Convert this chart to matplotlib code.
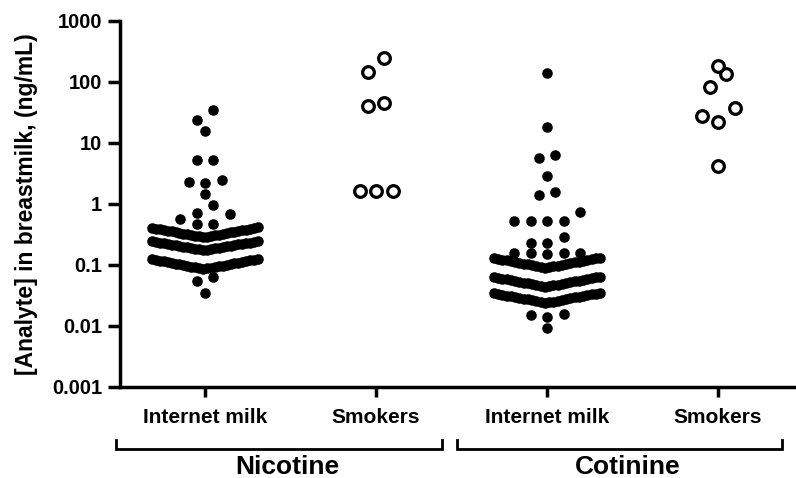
import numpy as np
import matplotlib.pyplot as plt
from matplotlib.transforms import blended_transform_factory

plt.rcParams['font.family'] = ['Liberation Sans', 'DejaVu Sans']
plt.rcParams['font.weight'] = 'bold'

categories = ['Internet milk', 'Smokers', 'Internet milk', 'Smokers']
analytes = ['Nicotine', 'Cotinine']

# values in ng/mL
nicotine_internet = [
    0.035, 0.055, 0.064,
    0.086, 0.0872, 0.0884, 0.0896, 0.0909, 0.0921, 0.0934, 0.0947, 0.0960, 0.0974,
    0.0987, 0.1001, 0.1015, 0.1029, 0.1044, 0.1058, 0.1073, 0.1088, 0.1103, 0.1119,
    0.1134, 0.1150, 0.1166, 0.1183, 0.1199, 0.1216, 0.1233, 0.1250,
    0.175, 0.177, 0.179, 0.182, 0.184, 0.186, 0.188, 0.191, 0.193, 0.196,
    0.198, 0.200, 0.203, 0.205, 0.208, 0.210, 0.213, 0.216, 0.218, 0.221,
    0.224, 0.226, 0.229, 0.232, 0.235, 0.238, 0.241, 0.244,
    0.285, 0.289, 0.293, 0.297, 0.301, 0.305, 0.309, 0.313, 0.317, 0.321,
    0.325, 0.330, 0.334, 0.339, 0.343, 0.348, 0.353, 0.357, 0.362, 0.367,
    0.372, 0.377, 0.382, 0.388, 0.393, 0.398, 0.404, 0.409,
    0.46, 0.46, 0.556, 0.67, 0.70, 0.94, 1.43, 2.17, 2.24, 2.43,
    5.2, 5.2, 15.5, 23.6, 34.0,
]
nicotine_smokers = [1.6, 1.6, 1.6, 40.0, 45.0, 145.0, 247.0]

cotinine_internet = [
    0.0093, 0.0141, 0.0152, 0.0158,
    0.0240, 0.0244, 0.0247, 0.0251, 0.0255, 0.0259, 0.0263, 0.0267, 0.0271, 0.0275,
    0.0279, 0.0283, 0.0287, 0.0292, 0.0296, 0.0301, 0.0305, 0.0310, 0.0314, 0.0319,
    0.0324, 0.0329, 0.0334, 0.0339, 0.0344, 0.0349,
    0.0440, 0.0447, 0.0453, 0.0460, 0.0467, 0.0474, 0.0481, 0.0489, 0.0496, 0.0504,
    0.0511, 0.0519, 0.0527, 0.0535, 0.0543, 0.0551, 0.0559, 0.0568, 0.0576, 0.0585,
    0.0594, 0.0603, 0.0612, 0.0621, 0.0630, 0.0640,
    0.0900, 0.0914, 0.0928, 0.0942, 0.0957, 0.0971, 0.0986, 0.1001, 0.1017, 0.1032,
    0.1048, 0.1064, 0.1081, 0.1097, 0.1114, 0.1131, 0.1148, 0.1166, 0.1184, 0.1202,
    0.1220, 0.1239, 0.1258, 0.1277, 0.1297, 0.1317,
    0.153, 0.155, 0.155, 0.157, 0.158, 0.23, 0.23, 0.29,
    0.52, 0.52, 0.52, 0.53, 0.72, 1.38, 1.55, 2.8, 5.6, 6.3, 18.0, 140.0,
]
cotinine_smokers = [4.1, 22.0, 27.0, 37.0, 82.0, 135.0, 182.0]

groups = [nicotine_internet, nicotine_smokers, cotinine_internet, cotinine_smokers]
filled = [True, False, True, False]
row_heights = [0.17, 0.25, 0.17, 0.25]   # decades per row

yticks = [0.001, 0.01, 0.1, 1, 10, 100, 1000]
ytick_labels = ['0.001', '0.01', '0.1', '1', '10', '100', '1000']


def row_layout(values, row_h, slot=0.0965, max_half=0.31):
    # prism-like rows: lowest value in the middle, the rest alternate outward
    vals = np.sort(np.asarray(values, dtype=float))
    logs = np.log10(vals)
    xs = np.zeros(len(vals))
    i = 0
    while i < len(vals):
        j = i
        while j < len(vals) and logs[j] - logs[i] < row_h:
            j += 1
        n = j - i
        step = slot if n < 2 else min(slot, 2 * max_half / (n - 1))
        for k in range(n):
            if n % 2:
                pos = ((k + 1) // 2) * (-1 if k % 2 == 1 else 1)
            else:
                pos = (k // 2 + 0.5) * (-1 if k % 2 == 0 else 1)
            xs[i + k] = pos * step
        i = j
    return xs, vals


fig = plt.figure(figsize=(7.96, 4.78), dpi=100)
ax = fig.add_axes([119.5 / 796, 1 - 387 / 478, (795 - 119.5) / 796, (387 - 20.5) / 478])

for gi, vals in enumerate(groups):
    dx, v = row_layout(vals, row_heights[gi])
    if filled[gi]:
        ax.plot(gi + dx, v, 'o', color='black', ms=7.6, mew=0, ls='none', clip_on=False)
    else:
        ax.plot(gi + dx, v, 'o', mfc='white', mec='black', ms=8.4, mew=2.3, ls='none', clip_on=False)

ax.set_yscale('log')
ax.set_ylim(0.001, 1000)
ax.set_xlim(-0.5, 3.45)
ax.set_yticks(yticks)
ax.set_yticklabels(ytick_labels)
ax.minorticks_off()
ax.set_xticks(range(len(categories)))
ax.set_xticklabels(categories)

for s in ['top', 'right']:
    ax.spines[s].set_visible(False)
for s in ['left', 'bottom']:
    ax.spines[s].set_linewidth(2.5)
ax.tick_params(axis='y', length=8.5, width=2.5, labelsize=14.5, pad=4)
ax.tick_params(axis='x', length=7, width=2.5, labelsize=15, pad=8)
ax.set_ylabel('[Analyte] in breastmilk, (ng/mL)', fontsize=16.5, fontweight='bold', labelpad=10)

# brackets under the category labels
tr = blended_transform_factory(ax.transData, ax.transAxes)
brackets = [(-0.52, 1.386), (1.474, 3.374)]
label_x = [0.48, 2.47]
for (x0, x1), lx, name in zip(brackets, label_x, analytes):
    ax.plot([x0, x0, x1, x1], [-0.145, -0.169, -0.169, -0.145], color='black', lw=2,
            transform=tr, clip_on=False, solid_joinstyle='miter')
    ax.text(lx, -0.218, name, transform=tr, ha='center', va='center', fontsize=19, fontweight='bold')

fig.savefig('out.png', dpi=100)
